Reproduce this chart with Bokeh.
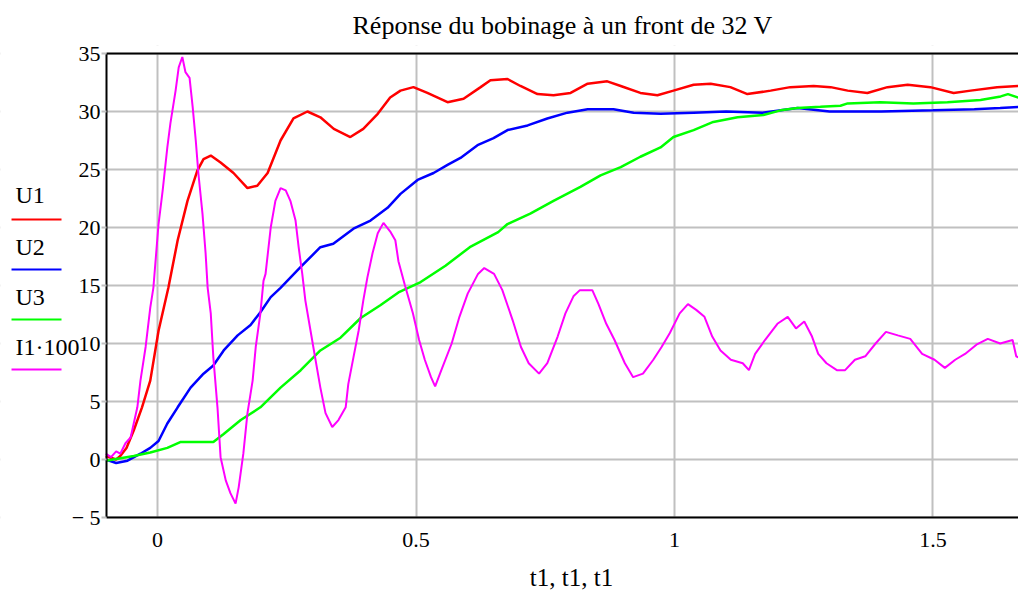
from bokeh.plotting import figure
from bokeh.models import Range1d, FixedTicker, BoxAnnotation, CustomJSTickFormatter
from bokeh.core.properties import value
from bokeh.embed import file_html
from bokeh.resources import INLINE

# ---------------- data ----------------
t_u1 = [-0.1, -0.08, -0.072, -0.06, -0.046, -0.03, -0.014, 0.002, 0.021, 0.039,
        0.058, 0.077, 0.089, 0.103, 0.122, 0.147, 0.174, 0.193, 0.213, 0.238,
        0.263, 0.29, 0.315, 0.341, 0.373, 0.398, 0.426, 0.45, 0.47, 0.495,
        0.522, 0.561, 0.592, 0.625, 0.644, 0.677, 0.702, 0.735, 0.766, 0.799,
        0.832, 0.870, 0.896, 0.934, 0.967, 0.998, 1.037, 1.07, 1.108, 1.141,
        1.186, 1.224, 1.269, 1.302, 1.335, 1.373, 1.412, 1.451, 1.495, 1.54,
        1.573, 1.624, 1.665]
u1 = [0.3, 0.0, 0.3, 1.0, 2.5, 4.5, 6.8, 11.1, 14.8, 18.9,
      22.3, 24.9, 25.9, 26.2, 25.6, 24.7, 23.4, 23.6, 24.7, 27.5,
      29.4, 30.0, 29.5, 28.5, 27.8, 28.5, 29.8, 31.2, 31.8, 32.1,
      31.6, 30.8, 31.1, 32.1, 32.7, 32.8, 32.2, 31.5, 31.4, 31.6,
      32.4, 32.6, 32.2, 31.6, 31.4, 31.8, 32.3, 32.4, 32.1, 31.5,
      31.8, 32.1, 32.2, 32.1, 31.8, 31.6, 32.1, 32.3, 32.1, 31.6,
      31.8, 32.1, 32.2]

t_u2 = [-0.1, -0.08, -0.058, -0.033, -0.014, 0.002, 0.019, 0.039, 0.064, 0.089,
        0.108, 0.128, 0.155, 0.18, 0.199, 0.219, 0.238, 0.277, 0.315, 0.34,
        0.379, 0.412, 0.445, 0.47, 0.503, 0.534, 0.561, 0.586, 0.619, 0.65,
        0.677, 0.716, 0.754, 0.793, 0.832, 0.882, 0.921, 0.973, 1.037, 1.1,
        1.17, 1.238, 1.3, 1.4, 1.5, 1.58, 1.63, 1.665]
u2 = [0.0, -0.3, -0.1, 0.5, 1.0, 1.6, 3.1, 4.5, 6.2, 7.4,
      8.1, 9.4, 10.7, 11.6, 12.7, 14.0, 14.8, 16.6, 18.3, 18.6,
      19.9, 20.6, 21.7, 22.9, 24.1, 24.7, 25.4, 26.0, 27.1, 27.7,
      28.4, 28.8, 29.4, 29.9, 30.2, 30.2, 29.9, 29.8, 29.9, 30.0,
      29.9, 30.3, 30.0, 30.0, 30.1, 30.2, 30.3, 30.4]

t_u3 = [-0.1, -0.046, -0.014, 0.019, 0.044, 0.083, 0.108, 0.128, 0.161, 0.199,
        0.238, 0.277, 0.315, 0.354, 0.393, 0.431, 0.466, 0.509, 0.557, 0.604,
        0.659, 0.677, 0.721, 0.766, 0.818, 0.857, 0.896, 0.934, 0.973, 0.998,
        1.037, 1.075, 1.122, 1.172, 1.205, 1.238, 1.282, 1.321, 1.335, 1.398,
        1.462, 1.528, 1.592, 1.631, 1.645, 1.665]
u3 = [-0.1, 0.3, 0.6, 1.0, 1.5, 1.5, 1.5, 2.2, 3.4, 4.5,
      6.2, 7.7, 9.4, 10.5, 12.2, 13.3, 14.4, 15.3, 16.7, 18.3,
      19.6, 20.3, 21.2, 22.3, 23.5, 24.5, 25.2, 26.1, 26.9, 27.8,
      28.4, 29.1, 29.5, 29.7, 30.1, 30.3, 30.4, 30.5, 30.7, 30.8,
      30.7, 30.8, 31.0, 31.3, 31.5, 31.2]

t_i1 = [-0.1, -0.09, -0.08, -0.072, -0.062, -0.052, -0.046, -0.039, -0.033, -0.023,
        -0.014, -0.008, 0.002, 0.01, 0.019, 0.025, 0.035, 0.041, 0.048, 0.054,
        0.062, 0.068, 0.074, 0.079, 0.087, 0.093, 0.097, 0.103, 0.108, 0.116,
        0.122, 0.132, 0.141, 0.151, 0.157, 0.166, 0.174, 0.184, 0.19, 0.199,
        0.205, 0.209, 0.219, 0.228, 0.238, 0.248, 0.257, 0.267, 0.273, 0.28,
        0.286, 0.296, 0.306, 0.315, 0.325, 0.338, 0.35, 0.364, 0.369, 0.379,
        0.389, 0.398, 0.406, 0.416, 0.426, 0.437, 0.451, 0.46, 0.466, 0.478,
        0.494, 0.506, 0.517, 0.529, 0.537, 0.549, 0.569, 0.584, 0.6, 0.62,
        0.632, 0.651, 0.667, 0.687, 0.703, 0.718, 0.738, 0.754, 0.774, 0.789,
        0.805, 0.817, 0.841, 0.853, 0.868, 0.884, 0.904, 0.92, 0.939, 0.959,
        0.975, 0.991, 1.01, 1.026, 1.042, 1.058, 1.073, 1.089, 1.109, 1.132,
        1.144, 1.156, 1.175, 1.199, 1.219, 1.235, 1.251, 1.266, 1.278, 1.294,
        1.314, 1.33, 1.349, 1.369, 1.389, 1.409, 1.432, 1.456, 1.479, 1.503,
        1.523, 1.543, 1.562, 1.584, 1.606, 1.63, 1.654, 1.661, 1.665]
i1x100 = [0.5, 0.2, 0.7, 0.5, 1.4, 1.9, 3.1, 4.5, 6.8, 9.7,
          13.1, 14.8, 20.3, 23.2, 26.9, 29.0, 31.8, 33.8, 34.7, 33.4,
          32.9, 30.4, 27.5, 24.7, 21.2, 17.8, 14.8, 12.6, 8.8, 4.5,
          0.2, -1.8, -2.9, -3.8, -2.4, 0.5, 4.0, 6.8, 9.7, 12.6,
          15.4, 16.0, 20.0, 22.3, 23.4, 23.2, 22.3, 20.6, 18.3, 16.0,
          13.7, 11.1, 8.5, 6.2, 4.0, 2.8, 3.4, 4.5, 6.5, 8.8,
          11.1, 13.7, 15.7, 17.8, 19.5, 20.4, 19.6, 18.9, 17.1, 15.1,
          12.6, 10.3, 8.6, 7.1, 6.3, 7.7, 10.0, 12.3, 14.3, 16.0,
          16.5, 16.0, 14.6, 12.0, 9.7, 8.3, 7.4, 8.3, 10.6, 12.6,
          14.1, 14.6, 14.6, 13.4, 11.7, 10.3, 8.3, 7.1, 7.4, 8.6,
          9.7, 10.9, 12.6, 13.4, 12.9, 12.3, 10.6, 9.4, 8.6, 8.3,
          7.7, 9.1, 10.3, 11.7, 12.3, 11.3, 11.9, 10.6, 9.1, 8.3,
          7.7, 7.7, 8.6, 8.9, 10.0, 11.0, 10.7, 10.4, 9.1, 8.6,
          7.9, 8.6, 9.1, 9.9, 10.4, 10.0, 10.3, 8.9, 8.8]

series_names = ["U1", "U2", "U3", "I1·100"]
x_ticks = [0, 0.5, 1, 1.5]
y_ticks = [-5, 0, 5, 10, 15, 20, 25, 30, 35]
x_label = "t1, t1, t1"
title = "Réponse du bobinage à un front de 32 V"

# ---------------- layout constants ----------------
FONT = "Liberation Serif"
X_MIN, X_MAX = -0.0986, 1.6654     # plot box in data units
Y_MIN, Y_MAX = -5, 35
X_VIEW = (-0.3037, X_MAX)          # canvas incl. legend area on the left
Y_VIEW = (-11.293, 35.69)          # canvas incl. tick labels below

p = figure(width=1018, height=590, output_backend="svg", toolbar_location=None,
           x_range=Range1d(*X_VIEW), y_range=Range1d(*Y_VIEW),
           min_border_left=0, min_border_right=0, min_border_top=45,
           min_border_bottom=0, title=title)
p.title.text_font = FONT
p.title.text_font_size = "26px"
p.title.text_font_style = "normal"
p.title.align = "left"
p.title.offset = 352
p.title.text_color = "black"
p.title.standoff = 11

p.outline_line_color = None
p.background_fill_color = "white"
p.border_fill_color = "white"

# axes drawn at the edges of the plot box
p.yaxis.fixed_location = X_MIN
p.xaxis.fixed_location = Y_MIN
p.yaxis.bounds = (Y_MIN, Y_MAX)
p.xaxis.bounds = (X_MIN, X_MAX)
for ax in (p.xaxis, p.yaxis):
    ax.axis_line_color = "black"
    ax.axis_line_width = 2
    ax.major_label_text_font = FONT
    ax.major_label_text_font_size = "22px"
    ax.major_label_text_color = "black"
    ax.minor_tick_line_color = None

p.xaxis.ticker = FixedTicker(ticks=x_ticks)
p.yaxis.ticker = FixedTicker(ticks=y_ticks)
p.xaxis.formatter = CustomJSTickFormatter(code="return tick.toString();")
p.yaxis.formatter = CustomJSTickFormatter(
    code="return tick < 0 ? '\u2212 ' + Math.abs(tick) : tick.toString();")
p.xaxis.major_tick_line_color = None
p.xaxis.major_label_standoff = 9
p.yaxis.major_tick_line_color = "#c0c0c0"
p.yaxis.major_tick_line_width = 2
p.yaxis.major_tick_out = 5
p.yaxis.major_tick_in = 0
p.yaxis.major_label_standoff = 1

for g in (p.xgrid, p.ygrid):
    g.grid_line_color = "#c0c0c0"
    g.grid_line_width = 2
    g.grid_line_alpha = 1.0

# keep the grid inside the plot box
for kw in (dict(left=X_VIEW[0], right=X_MIN),
           dict(bottom=Y_VIEW[0], top=Y_MIN),
           dict(bottom=Y_MAX, top=Y_VIEW[1])):
    p.add_layout(BoxAnnotation(fill_color="white", fill_alpha=1.0,
                               line_color=None, level="underlay", **kw))

# top border of the plot box
p.segment(x0=[X_MIN], y0=[Y_MAX], x1=[X_MAX], y1=[Y_MAX],
          line_color="black", line_width=2)

colors = ["#ff0000", "#0000ff", "#00ff00", "#ff00ff"]
data = [(t_u1, u1), (t_u2, u2), (t_u3, u3), (t_i1, i1x100)]
widths = [2.5, 2.5, 2.5, 2]
for (tx, vy), c, w in zip(data, colors, widths):
    p.line(tx, vy, line_color=c, line_width=w)

# x axis title
p.text(x=[0.8008], y=[-10.17], text=[x_label], text_font=value(FONT),
       text_font_size=value("25px"), text_baseline="middle",
       text_align="center", text_color="black")

# legend (Mathcad style: name above a short coloured line, left of the axis)
leg_text_y = [22.76, 18.36, 14.05, 9.74]
leg_line_y = [20.69, 16.38, 12.07, 7.76]
p.text(x=[-0.2747] * 4, y=leg_text_y, text=series_names,
       text_font=value(FONT), text_font_size=value("24px"),
       text_baseline="middle", text_align="left", text_color="black")
p.segment(x0=[-0.2824] * 4, y0=leg_line_y, x1=[-0.1857] * 4, y1=leg_line_y,
          line_color=colors, line_width=2)

open("out.html", "w").write(file_html(p, INLINE))
